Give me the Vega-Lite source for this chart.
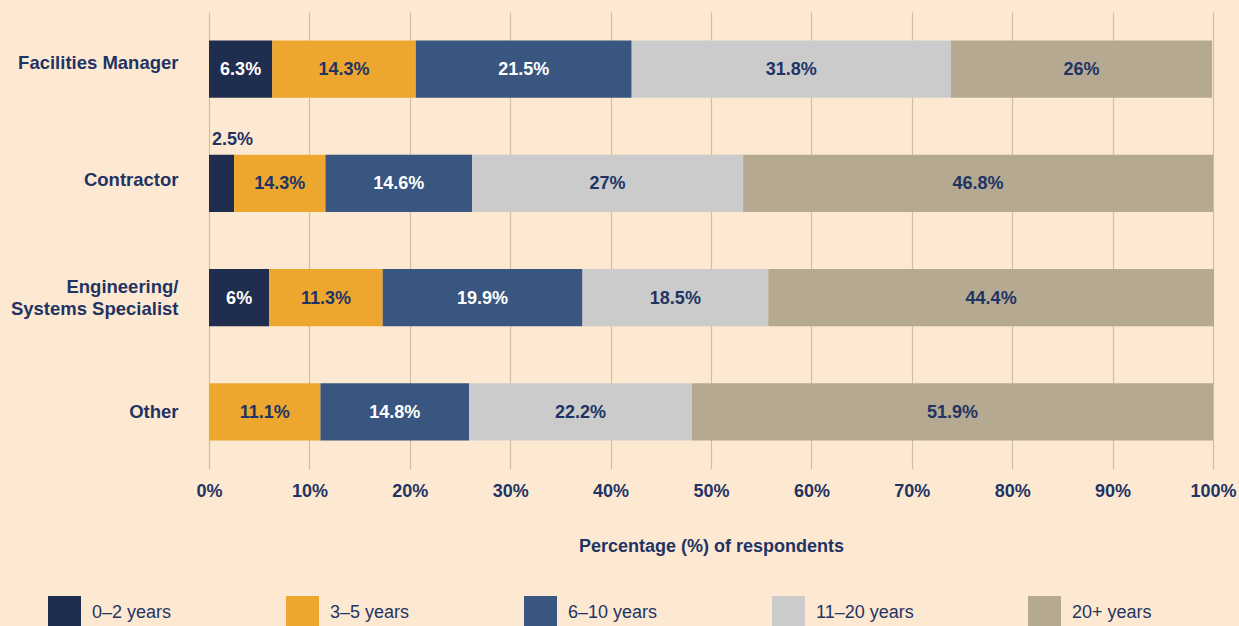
{
  "$schema": "https://vega.github.io/schema/vega-lite/v6.json",
  "width": 1004,
  "height": 457,
  "autosize": {"type": "none"},
  "padding": {"left": 209, "top": 12, "right": 26, "bottom": 157},
  "background": "#FDE9D1",
  "config": {"view": {"stroke": null}, "font": "Liberation Sans"},
  "data": {
    "values": [
      {"role": "Facilities Manager", "group": "0–2 years", "idx": 1, "value": 6.3, "label": "6.3%"},
      {"role": "Facilities Manager", "group": "3–5 years", "idx": 2, "value": 14.3, "label": "14.3%"},
      {"role": "Facilities Manager", "group": "6–10 years", "idx": 3, "value": 21.5, "label": "21.5%"},
      {"role": "Facilities Manager", "group": "11–20 years", "idx": 4, "value": 31.8, "label": "31.8%"},
      {"role": "Facilities Manager", "group": "20+ years", "idx": 5, "value": 26, "label": "26%"},
      {"role": "Contractor", "group": "0–2 years", "idx": 1, "value": 2.5, "label": "2.5%"},
      {"role": "Contractor", "group": "3–5 years", "idx": 2, "value": 9.1, "label": "14.3%"},
      {"role": "Contractor", "group": "6–10 years", "idx": 3, "value": 14.6, "label": "14.6%"},
      {"role": "Contractor", "group": "11–20 years", "idx": 4, "value": 27, "label": "27%"},
      {"role": "Contractor", "group": "20+ years", "idx": 5, "value": 46.8, "label": "46.8%"},
      {"role": "Engineering/ Systems Specialist", "group": "0–2 years", "idx": 1, "value": 6, "label": "6%"},
      {"role": "Engineering/ Systems Specialist", "group": "3–5 years", "idx": 2, "value": 11.3, "label": "11.3%"},
      {"role": "Engineering/ Systems Specialist", "group": "6–10 years", "idx": 3, "value": 19.9, "label": "19.9%"},
      {"role": "Engineering/ Systems Specialist", "group": "11–20 years", "idx": 4, "value": 18.5, "label": "18.5%"},
      {"role": "Engineering/ Systems Specialist", "group": "20+ years", "idx": 5, "value": 44.4, "label": "44.4%"},
      {"role": "Other", "group": "0–2 years", "idx": 1, "value": 0, "label": "0%"},
      {"role": "Other", "group": "3–5 years", "idx": 2, "value": 11.1, "label": "11.1%"},
      {"role": "Other", "group": "6–10 years", "idx": 3, "value": 14.8, "label": "14.8%"},
      {"role": "Other", "group": "11–20 years", "idx": 4, "value": 22.2, "label": "22.2%"},
      {"role": "Other", "group": "20+ years", "idx": 5, "value": 51.9, "label": "51.9%"}
    ]
  },
  "transform": [
    {"stack": "value", "groupby": ["role"], "sort": [{"field": "idx"}], "as": ["x0", "x1"]}
  ],
  "encoding": {
    "y": {
      "field": "role",
      "type": "nominal",
      "sort": ["Facilities Manager", "Contractor", "Engineering/ Systems Specialist", "Other"],
      "scale": {"paddingInner": 0.5, "paddingOuter": 0.25},
      "axis": {
        "title": null,
        "domain": false,
        "ticks": false,
        "labelPadding": 31,
        "labelFontSize": 18.5,
        "labelFontWeight": "bold",
        "labelColor": "#1F3464",
        "labelLimit": 300,
        "labelLineHeight": 22,
        "labelOffset": {
          "condition": [
            {"test": "datum.value == 'Facilities Manager'", "value": -6},
            {"test": "datum.value == 'Contractor'", "value": -3},
            {"test": "datum.value == 'Engineering/ Systems Specialist'", "value": -11}
          ],
          "value": 0
        },
        "labelExpr": "datum.label == 'Engineering/ Systems Specialist' ? ['Engineering/', 'Systems Specialist'] : datum.label"
      }
    }
  },
  "layer": [
    {
      "mark": {"type": "bar"},
      "encoding": {
        "x": {
          "field": "x0",
          "type": "quantitative",
          "scale": {"domain": [0, 100], "nice": false},
          "axis": {
            "title": "Percentage (%) of respondents",
            "values": [0, 10, 20, 30, 40, 50, 60, 70, 80, 90, 100],
            "labelExpr": "datum.value + '%'",
            "grid": true,
            "gridColor": "#CFBEA4",
            "gridWidth": 1.2,
            "domain": false,
            "ticks": false,
            "labelPadding": 13,
            "labelFontSize": 18,
            "labelFontWeight": "bold",
            "labelColor": "#1F3464",
            "labelFlush": false,
            "titleFontSize": 18,
            "titleFontWeight": "bold",
            "titleColor": "#1F3464",
            "titlePadding": 37
          }
        },
        "x2": {"field": "x1"},
        "color": {
          "field": "group",
          "type": "nominal",
          "scale": {
            "domain": ["0–2 years", "3–5 years", "6–10 years", "11–20 years", "20+ years"],
            "range": ["#1F2D4E", "#EEA72E", "#38567F", "#CBCBCB", "#B5A992"]
          },
          "legend": {
            "orient": "none",
            "legendX": -161,
            "legendY": 584,
            "direction": "horizontal",
            "columns": 5,
            "columnPadding": 114,
            "title": null,
            "symbolType": "square",
            "symbolSize": 1089,
            "symbolStrokeWidth": 0,
            "symbolOpacity": 1,
            "labelFontSize": 18,
            "labelColor": "#1F3464",
            "labelOffset": 11,
            "labelLimit": 200
          }
        }
      }
    },
    {
      "transform": [
        {"filter": "datum.value >= 5"},
        {"calculate": "(datum.x0 + datum.x1) / 2", "as": "xmid"}
      ],
      "mark": {"type": "text", "fontWeight": "bold", "fontSize": 18, "baseline": "middle", "align": "center", "dy": 1},
      "encoding": {
        "x": {"field": "xmid", "type": "quantitative"},
        "text": {"field": "label"},
        "color": {
          "condition": {"test": "datum.idx == 1 || datum.idx == 3", "value": "#FFFFFF"},
          "value": "#1F3464"
        }
      }
    },
    {
      "transform": [{"filter": "datum.value > 0 && datum.value < 5"}],
      "mark": {"type": "text", "fontWeight": "bold", "fontSize": 18, "baseline": "middle", "align": "left", "dx": 3, "dy": -43, "color": "#1F3464"},
      "encoding": {
        "x": {"field": "x0", "type": "quantitative"},
        "text": {"field": "label"}
      }
    }
  ]
}
